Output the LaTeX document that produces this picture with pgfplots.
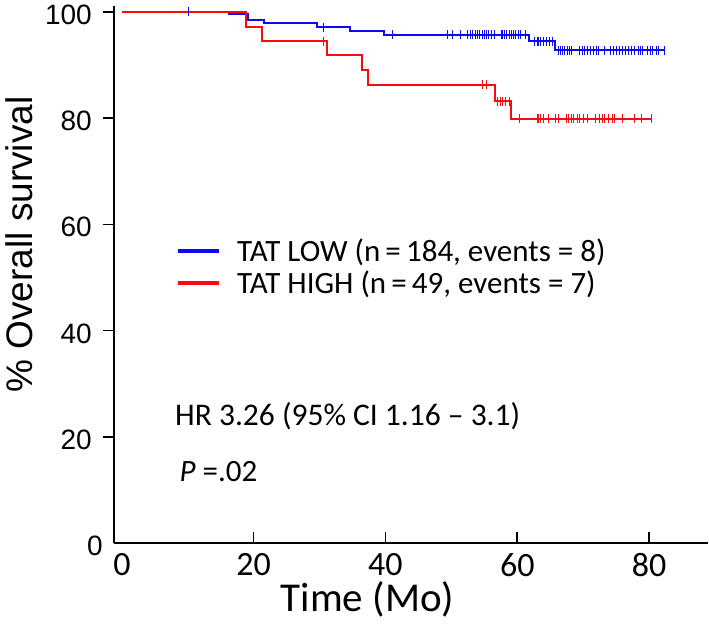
\documentclass[border=0pt]{standalone}
\usepackage{fontspec}
\setmainfont{Carlito}
\newfontfamily\arialf{Liberation Sans}
\usepackage{pgfplots}
\pgfplotsset{compat=1.18}
\definecolor{kmblue}{RGB}{10,10,245}
\definecolor{kmred}{RGB}{250,10,10}
\begin{document}
\begin{tikzpicture}
\begin{axis}[name=ax, scale only axis, width=594pt, height=537pt,
  xmin=-1.2, xmax=88.95, ymin=0, ymax=101.1,
  axis x line=bottom, axis y line=left,
  axis line style={line width=2.5pt,-},
  xtick={20,40,60,80}, ytick={20,40,60,80,100},
  extra x ticks={0}, extra y ticks={0},
  extra tick style={major tick length=0pt},
  xtick align=inside, ytick align=outside,
  major tick length=11pt, tick style={line width=1.6pt, black},
  /pgf/number format/assume math mode=true,
  xticklabel style={font=\fontsize{34}{34}\selectfont, anchor=north, inner sep=0pt, yshift=-10pt},
  yticklabel style={font=\arialf\fontsize{28}{28}\selectfont, anchor=east, inner sep=0pt, xshift=-11pt, yshift=-3pt},
  xlabel={Time (Mo)}, ylabel={\% Overall survival},
  xlabel style={at={(rel axis cs:0.4268,-0.1279)}, anchor=base, font=\fontsize{41}{41}\selectfont},
  ylabel style={at={(rel axis cs:-0.138,0.5559)}, anchor=base, font=\arialf\fontsize{37}{37}\selectfont},
  legend image code/.code={\draw[#1] (0pt,0pt) -- (41pt,0pt);},
  legend cell align=left,
  legend style={at={(rel axis cs:0.1044,0.567)}, anchor=north west, draw=none, fill=none,
    font=\fontsize{31}{31}\selectfont, inner sep=0pt, row sep=8pt, column sep=16pt,
    nodes={inner sep=0pt}},
]
% TAT LOW
\addplot[kmblue, line width=2pt, const plot, forget plot] coordinates {
(0,100) (16.2,99.6) (19.1,98.5) (21.6,97.9) (29.6,97.1) (34.6,96.4) (39.8,95.7) (61.8,94.5) (65.8,92.8) (82.4,92.8)};
\addplot[kmblue, only marks, mark=|, mark size=4.5pt, mark options={line width=1pt}, forget plot] coordinates {
(10.1,100) (30.6,97.1)
(41.0,95.7) (49.4,95.7) (50.1,95.7) (51.4,95.7) (52.5,95.7) (52.9,95.7) (53.2,95.7) (53.6,95.7) (54.0,95.7) (54.3,95.7) (54.7,95.7) (55.0,95.7) (55.4,95.7) (55.7,95.7) (56.1,95.7) (56.5,95.7) (57.6,95.7) (57.8,95.7) (58.1,95.7) (58.4,95.7) (58.8,95.7) (59.1,95.7) (59.5,95.7) (59.8,95.7) (60.2,95.7) (60.5,95.7) (61.2,95.7)
(62.6,94.5) (63.0,94.5) (63.3,94.5) (63.6,94.5) (64.0,94.5) (64.4,94.5) (64.9,94.5) (65.4,94.5)
(66.2,92.8) (66.5,92.8) (66.9,92.8) (67.2,92.8) (67.6,92.8) (67.9,92.8) (68.2,92.8) (69.5,92.8) (69.9,92.8) (70.2,92.8) (70.7,92.8) (71.1,92.8) (71.6,92.8) (72.1,92.8) (72.4,92.8) (73.2,92.8) (74.1,92.8) (74.6,92.8) (75.1,92.8) (75.5,92.8) (76.0,92.8) (76.4,92.8) (76.9,92.8) (77.4,92.8) (77.8,92.8) (78.4,92.8) (78.7,92.8) (79.0,92.8) (79.7,92.8) (80.2,92.8) (80.6,92.8) (81.1,92.8) (81.5,92.8) (82.4,92.8)};
% TAT HIGH
\addplot[kmred, line width=2pt, const plot, forget plot] coordinates {
(0,100) (18.9,97.2) (21.2,94.5) (31.2,91.8) (36.5,89.1) (37.3,86.3) (56.6,83.2) (59.0,79.9) (80.4,79.9)};
\addplot[kmred, only marks, mark=|, mark size=4.5pt, mark options={line width=1pt}, forget plot] coordinates {
(30.6,94.5) (54.7,86.3) (55.4,86.3)
(57.0,83.2) (57.4,83.2) (57.8,83.2) (58.2,83.2) (58.8,83.2)
(60.4,79.9) (63.0,79.9) (63.3,79.9) (63.6,79.9) (64.0,79.9) (64.7,79.9) (65.8,79.9) (66.2,79.9) (67.4,79.9) (67.8,79.9) (68.2,79.9) (68.6,79.9) (69.1,79.9) (69.5,79.9) (70.0,79.9) (70.7,79.9) (71.8,79.9) (72.5,79.9) (72.9,79.9) (73.2,79.9) (73.9,79.9) (74.4,79.9) (74.8,79.9) (76.0,79.9) (77.8,79.9) (78.9,79.9) (80.4,79.9)};
\addlegendimage{kmblue, line width=4pt}
\addlegendentry{TAT LOW (n\,=\,184, events = 8)}
\addlegendimage{kmred, line width=4pt}
\addlegendentry{TAT HIGH (n\,=\,49, events = 7)}
\node[anchor=base west, inner sep=0pt, font=\fontsize{31.5}{31.5}\selectfont] at (rel axis cs:0.1027,0.2197) {HR 3.26 (95\% CI 1.16 -- 3.1)};
\node[anchor=base west, inner sep=0pt, font=\fontsize{31}{31}\selectfont] at (rel axis cs:0.1100,0.1136) {\textit{P} =.02};
\end{axis}
\pgfresetboundingbox
\path[use as bounding box] (ax.south west) ++(-114pt,-93pt) rectangle ++(709pt,636pt);
\end{tikzpicture}
\end{document}
